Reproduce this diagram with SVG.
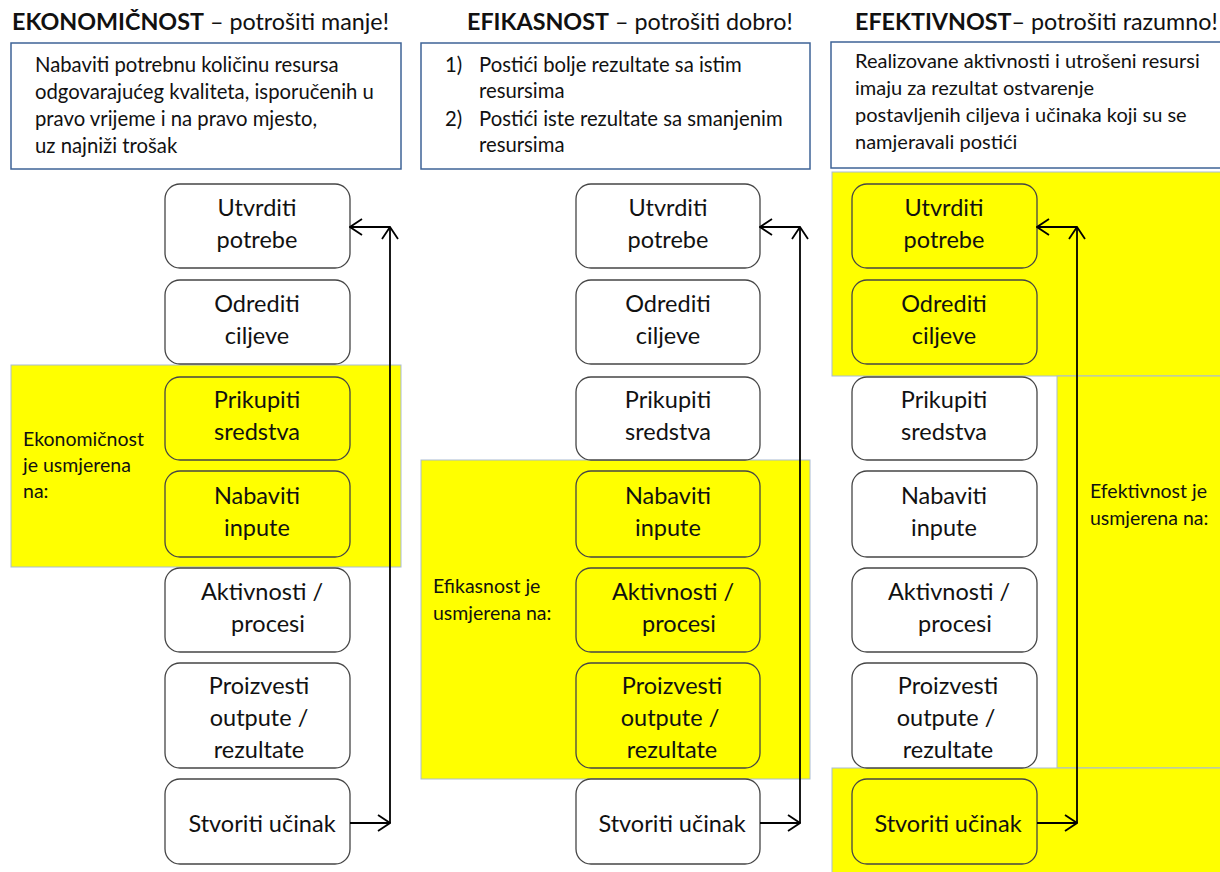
<svg xmlns="http://www.w3.org/2000/svg" width="1220" height="872" viewBox="0 0 1220 872">
<style>
text{font-family:Lato,"Noto Sans","Liberation Sans",sans-serif;fill:#111}
.hd{font-size:23.3px}
.b{font-weight:bold}
.desc{fill:#fff;stroke:#3E6396;stroke-width:1.5}
.dt{font-size:20.3px}
.zone{fill:#FFFF00;stroke:#A9BCD3;stroke-width:1}
.node{fill:#fff;stroke:#454545;stroke-width:1.3}
.ny{fill:#FFFF00;stroke:#454545;stroke-width:1.3}
.nt{font-size:23.5px;text-anchor:middle}
.lb{font-size:19.5px}
.con{fill:none;stroke:#000;stroke-width:1.8}
</style>
<defs>
<marker id="arr" viewBox="0 0 14 18" refX="13" refY="9" markerWidth="14" markerHeight="18" markerUnits="userSpaceOnUse" orient="auto">
<path d="M1,1 L13,9 L1,17" fill="none" stroke="#000" stroke-width="1.8"/>
</marker>
</defs>
<rect width="1220" height="872" fill="#fff"/>

<g id="headers">
<text class="hd" x="12" y="30"><tspan class="b">EKONOMIČNOST</tspan> – potrošiti manje!</text>
<text class="hd" x="467" y="30"><tspan class="b">EFIKASNOST</tspan> – potrošiti dobro!</text>
<text class="hd" x="855" y="30"><tspan class="b">EFEKTIVNOST</tspan>– potrošiti razumno!</text>
</g>

<g id="desc1">
<rect class="desc" x="11" y="43" width="390" height="126"/>
<text class="dt" x="35" y="72">Nabaviti potrebnu količinu resursa</text>
<text class="dt" x="35" y="99">odgovarajućeg kvaliteta, isporučenih u</text>
<text class="dt" x="35" y="126">pravo vrijeme i na pravo mjesto,</text>
<text class="dt" x="35" y="153">uz najniži trošak</text>
</g>
<g id="desc2">
<rect class="desc" x="421" y="43" width="389" height="126"/>
<text class="dt" x="445" y="72">1)</text>
<text class="dt" x="479" y="72">Postići bolje rezultate sa istim</text>
<text class="dt" x="479" y="98">resursima</text>
<text class="dt" x="445" y="126">2)</text>
<text class="dt" x="479" y="126">Postići iste rezultate sa smanjenim</text>
<text class="dt" x="479" y="152">resursima</text>
</g>
<g id="desc3">
<rect class="desc" x="831" y="42" width="395" height="126"/>
<text class="dt" x="855" y="68" style="font-size:20px">Realizovane aktivnosti i utrošeni resursi</text>
<text class="dt" x="855" y="95" style="font-size:20px">imaju za rezultat ostvarenje</text>
<text class="dt" x="855" y="122" style="font-size:20px">postavljenih ciljeva i učinaka koji su se</text>
<text class="dt" x="855" y="149" style="font-size:20px">namjeravali postići</text>
</g>

<g id="zones">
<rect class="zone" x="11" y="365" width="390" height="202"/>
<rect class="zone" x="421" y="460" width="389" height="319"/>
<rect class="zone" x="832" y="172" width="395" height="204"/>
<rect class="zone" x="1057" y="376" width="170" height="392"/>
<rect class="zone" x="832" y="768" width="395" height="110"/>
</g>

<!-- Column 1 -->
<g id="c1-utvrditi"><rect class="node" x="165" y="184" width="185" height="84" rx="15"/><text class="nt" x="257" y="216">Utvrditi</text><text class="nt" x="257" y="248">potrebe</text></g>
<g id="c1-odrediti"><rect class="node" x="165" y="280" width="185" height="84" rx="15"/><text class="nt" x="257" y="312">Odrediti</text><text class="nt" x="257" y="344">ciljeve</text></g>
<g id="c1-prikupiti"><rect class="ny" x="165" y="377" width="185" height="83" rx="15"/><text class="nt" x="257" y="408">Prikupiti</text><text class="nt" x="257" y="440">sredstva</text></g>
<g id="c1-nabaviti"><rect class="ny" x="165" y="471" width="185" height="86" rx="15"/><text class="nt" x="257" y="504">Nabaviti</text><text class="nt" x="257" y="536">inpute</text></g>
<g id="c1-aktivnosti"><rect class="node" x="165" y="568" width="185" height="84" rx="15"/><text class="nt" x="262" y="600">Aktivnosti  /</text><text class="nt" x="268" y="632">procesi</text></g>
<g id="c1-proizvesti"><rect class="node" x="165" y="663" width="185" height="105" rx="15"/><text class="nt" x="259" y="694">Proizvesti</text><text class="nt" x="259" y="726">outpute /</text><text class="nt" x="259" y="758">rezultate</text></g>
<g id="c1-stvoriti"><rect class="node" x="165" y="779" width="185" height="85" rx="15"/><text class="nt" x="262" y="832">Stvoriti učinak</text></g>

<!-- Column 2 -->
<g id="c2-utvrditi"><rect class="node" x="576" y="184" width="184" height="84" rx="15"/><text class="nt" x="668" y="216">Utvrditi</text><text class="nt" x="668" y="248">potrebe</text></g>
<g id="c2-odrediti"><rect class="node" x="576" y="280" width="184" height="84" rx="15"/><text class="nt" x="668" y="312">Odrediti</text><text class="nt" x="668" y="344">ciljeve</text></g>
<g id="c2-prikupiti"><rect class="node" x="576" y="377" width="184" height="83" rx="15"/><text class="nt" x="668" y="408">Prikupiti</text><text class="nt" x="668" y="440">sredstva</text></g>
<g id="c2-nabaviti"><rect class="ny" x="576" y="471" width="184" height="86" rx="15"/><text class="nt" x="668" y="504">Nabaviti</text><text class="nt" x="668" y="536">inpute</text></g>
<g id="c2-aktivnosti"><rect class="ny" x="576" y="568" width="184" height="84" rx="15"/><text class="nt" x="673" y="600">Aktivnosti  /</text><text class="nt" x="679" y="632">procesi</text></g>
<g id="c2-proizvesti"><rect class="ny" x="576" y="663" width="184" height="105" rx="15"/><text class="nt" x="672" y="694">Proizvesti</text><text class="nt" x="670" y="726">outpute /</text><text class="nt" x="672" y="758">rezultate</text></g>
<g id="c2-stvoriti"><rect class="node" x="576" y="779" width="184" height="85" rx="15"/><text class="nt" x="672" y="832">Stvoriti učinak</text></g>

<!-- Column 3 -->
<g id="c3-utvrditi"><rect class="ny" x="852" y="184" width="185" height="84" rx="15"/><text class="nt" x="944" y="216">Utvrditi</text><text class="nt" x="944" y="248">potrebe</text></g>
<g id="c3-odrediti"><rect class="ny" x="852" y="280" width="185" height="84" rx="15"/><text class="nt" x="944" y="312">Odrediti</text><text class="nt" x="944" y="344">ciljeve</text></g>
<g id="c3-prikupiti"><rect class="node" x="852" y="377" width="185" height="83" rx="15"/><text class="nt" x="944" y="408">Prikupiti</text><text class="nt" x="944" y="440">sredstva</text></g>
<g id="c3-nabaviti"><rect class="node" x="852" y="471" width="185" height="86" rx="15"/><text class="nt" x="944" y="504">Nabaviti</text><text class="nt" x="944" y="536">inpute</text></g>
<g id="c3-aktivnosti"><rect class="node" x="852" y="568" width="185" height="84" rx="15"/><text class="nt" x="949" y="600">Aktivnosti  /</text><text class="nt" x="955" y="632">procesi</text></g>
<g id="c3-proizvesti"><rect class="node" x="852" y="663" width="185" height="105" rx="15"/><text class="nt" x="948" y="694">Proizvesti</text><text class="nt" x="946" y="726">outpute /</text><text class="nt" x="948" y="758">rezultate</text></g>
<g id="c3-stvoriti"><rect class="ny" x="852" y="779" width="185" height="85" rx="15"/><text class="nt" x="948" y="832">Stvoriti učinak</text></g>

<g id="connectors">
<path class="con" d="M350,823 H390" marker-end="url(#arr)"/>
<path class="con" d="M390,823 V227" marker-end="url(#arr)"/>
<path class="con" d="M390,227 H350" marker-end="url(#arr)"/>
<path class="con" d="M760,823 H800" marker-end="url(#arr)"/>
<path class="con" d="M800,823 V227" marker-end="url(#arr)"/>
<path class="con" d="M800,227 H760" marker-end="url(#arr)"/>
<path class="con" d="M1037,823 H1077" marker-end="url(#arr)"/>
<path class="con" d="M1077,823 V227" marker-end="url(#arr)"/>
<path class="con" d="M1077,227 H1037" marker-end="url(#arr)"/>
</g>

<g id="labels">
<text class="lb" x="23" y="446">Ekonomičnost</text>
<text class="lb" x="23" y="472">je usmjerena</text>
<text class="lb" x="23" y="498">na:</text>
<text class="lb" x="433" y="593">Efikasnost je</text>
<text class="lb" x="433" y="620">usmjerena na:</text>
<text class="lb" x="1090" y="498">Efektivnost je</text>
<text class="lb" x="1090" y="525">usmjerena na:</text>
</g>
</svg>
